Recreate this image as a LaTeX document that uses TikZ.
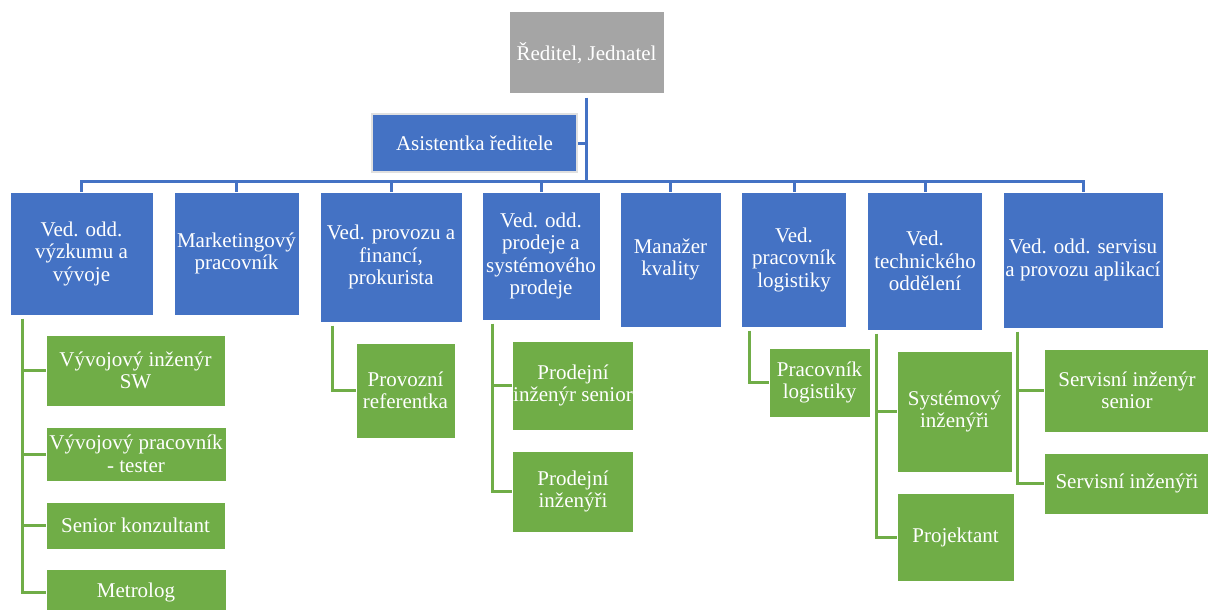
\documentclass[tikz,border=0pt]{standalone}
\usepackage{fontspec}
\setmainfont{Liberation Serif}
\definecolor{oblue}{HTML}{4472C4}
\definecolor{ogreen}{HTML}{70AD47}
\definecolor{ogray}{HTML}{A5A5A5}
\tikzset{
  every node/.style={font=\fontsize{21}{22.5}\selectfont, text=white, align=center, inner sep=0pt},
  bbox/.style={fill=oblue, draw=white, line width=1pt},
  gbox/.style={fill=ogreen, draw=white, line width=1pt},
  topbox/.style={fill=ogray, draw=white, line width=1pt},
  bline/.style={draw=oblue, line width=3pt},
  gline/.style={draw=ogreen, line width=3pt},
}
\begin{document}
\begin{tikzpicture}[x=1pt,y=-1pt]
\useasboundingbox (0,0) rectangle (1208,610);
% top
\node[topbox, minimum width=155pt, minimum height=82pt] (red) at (586.5,53) {Ředitel, Jednatel};
\node[fill=oblue, draw=black!12, line width=2pt, minimum width=205pt, minimum height=58pt] (asist) at (474.5,143) {Asistentka ředitele};
% level 1
\node[bbox, minimum width=143pt, minimum height=123pt] (b1) at (81.5,253.5) {Ved. odd.\\výzkumu a\\vývoje};
\node[bbox, minimum width=125pt, minimum height=123pt] (b2) at (236.5,253.5) {Marketingový\\pracovník};
\node[bbox, minimum width=142pt, minimum height=130pt] (b3) at (391,257) {Ved. provozu a\\financí,\\prokurista};
\node[bbox, minimum width=118pt, minimum height=128pt] (b4) at (541,256) {Ved. odd.\\prodeje a\\systémového\\prodeje};
\node[bbox, minimum width=101pt, minimum height=135pt] (b5) at (670.5,259.5) {Manažer\\kvality};
\node[bbox, minimum width=105.5pt, minimum height=135pt] (b6) at (794,259.5) {Ved.\\pracovník\\logistiky};
\node[bbox, minimum width=115.5pt, minimum height=138pt] (b7) at (925,261) {Ved.\\technického\\oddělení};
\node[bbox, minimum width=160pt, minimum height=136pt] (b8) at (1083,260) {Ved. odd. servisu\\a provozu aplikací};
% children
\node[gbox, minimum width=179pt, minimum height=71pt] (c11) at (135.5,370.5) {Vývojový inženýr\\SW};
\node[gbox, minimum width=180pt, minimum height=54pt] (c12) at (136,454) {Vývojový pracovník\\- tester};
\node[gbox, minimum width=179pt, minimum height=47pt] (c13) at (135.5,525.5) {Senior konzultant};
\node[gbox, minimum width=180pt, minimum height=47pt] (c14) at (136,592.5) {Metrolog};
\node[gbox, minimum width=99pt, minimum height=95pt] (c31) at (405.5,390.5) {Provozní\\referentka};
\node[gbox, minimum width=121pt, minimum height=89pt] (c41) at (573,385.5) {Prodejní\\\makebox[0pt]{inženýr senior}};
\node[gbox, minimum width=121pt, minimum height=81pt] (c42) at (573,491.5) {Prodejní\\inženýři};
\node[gbox, minimum width=101pt, minimum height=69pt] (c61) at (819.5,382.5) {Pracovník\\logistiky};
\node[gbox, minimum width=115pt, minimum height=121pt] (c71) at (954.5,411.5) {Systémový\\inženýři};
\node[gbox, minimum width=117pt, minimum height=88pt] (c72) at (955.5,537) {Projektant};
\node[gbox, minimum width=166pt, minimum height=83pt] (c81) at (1127,390.5) {Servisní inženýr\\senior};
\node[gbox, minimum width=166pt, minimum height=61pt] (c82) at (1127,483.5) {Servisní inženýři};
% blue connectors
\coordinate (bus) at (586.5,181);
\draw[bline] ([yshift=-3pt]red.south) -- (bus);
\draw[bline] (asist.east) -- (asist.east -| red.south);
\draw[bline] (b1.north) -- (b1.north |- bus) -- (b8.north |- bus) -- (b8.north);
\foreach \b in {b2,b3,b4,b5,b6,b7}{
  \draw[bline] (\b.north) -- (\b.north |- bus);
}
% green connectors
\coordinate (t1) at ([xshift=12.5pt,yshift=-3pt]b1.south west);
\coordinate (t3) at ([xshift=13pt,yshift=-3pt]b3.south west);
\coordinate (t4) at ([xshift=11pt,yshift=-3pt]b4.south west);
\coordinate (t6) at ([xshift=8.5pt,yshift=-3pt]b6.south west);
\coordinate (t7) at ([xshift=9.5pt,yshift=-3pt]b7.south west);
\coordinate (t8) at ([xshift=15pt,yshift=-3pt]b8.south west);
\draw[gline] (t1) |- (c14.west);
\draw[gline] (c11.west) -- (c11.west -| t1);
\draw[gline] (c12.west) -- (c12.west -| t1);
\draw[gline] (c13.west) -- (c13.west -| t1);
\draw[gline] (t3) |- (c31.west);
\draw[gline] (t4) |- (c42.west);
\draw[gline] (c41.west) -- (c41.west -| t4);
\draw[gline] (t6) |- (c61.west);
\draw[gline] (t7) |- (c72.west);
\draw[gline] (c71.west) -- (c71.west -| t7);
\draw[gline] (t8) |- (c82.west);
\draw[gline] (c81.west) -- (c81.west -| t8);
\end{tikzpicture}
\end{document}
